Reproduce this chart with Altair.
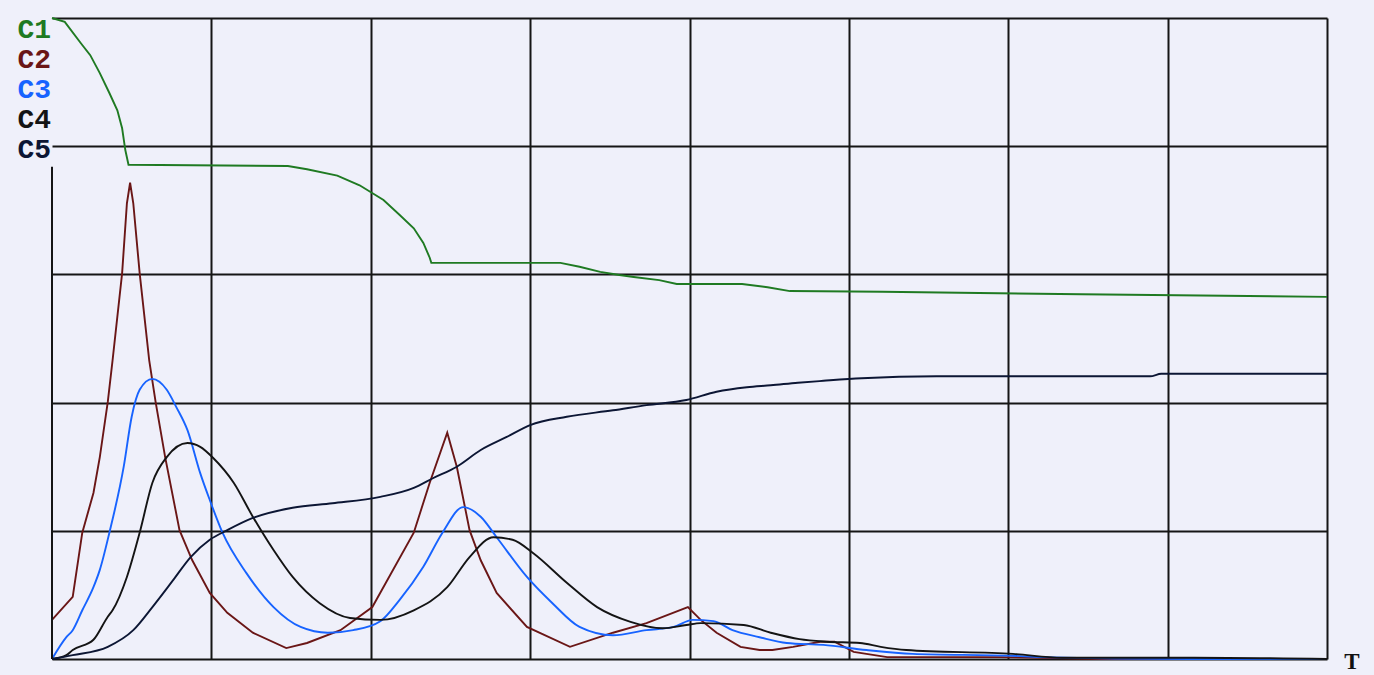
import altair as alt
import pandas as pd

# ---- data (T: 0-80, value: 0-100) ----
c1_t = [0, 0.8, 1.8, 2.4, 3.0, 3.6, 4.1, 4.4, 4.6, 4.8, 14.8, 16.0, 17.9, 19.3, 20.8, 21.8, 22.7, 23.3, 23.7, 23.8,
        31.9, 33.1, 34.4, 35.6, 36.5, 38.1, 39.2, 43.3, 44.9, 46.3, 52.1, 64.6, 80]
c1_v = [100.0, 99.4, 96.1, 94.2, 91.4, 88.3, 85.6, 82.8, 79.4, 77.1, 76.9, 76.4, 75.4, 73.9, 71.6, 69.3, 67.2, 64.9, 62.6, 61.8,
        61.8, 61.2, 60.4, 59.9, 59.6, 59.1, 58.5, 58.5, 58.0, 57.4, 57.3, 56.9, 56.5]

c2_t = [0, 1.3, 1.9, 2.6, 3.0, 3.5, 3.8, 4.4, 4.7, 4.9, 5.1, 5.5, 6.1, 6.5, 7.1, 8.0, 8.8, 9.9, 11.0, 12.6, 14.7,
        16.0, 18.1, 20.1, 22.7, 23.7, 24.8, 25.4, 26.2, 26.9, 27.9, 29.8, 32.5, 35.2, 37.3, 39.9, 40.7, 41.7, 43.2,
        44.4, 45.2, 46.5, 48.2, 49.1, 50.3, 52.4, 59.5, 65.8, 80]
c2_v = [6.1, 9.7, 19.7, 25.9, 31.5, 40.1, 46.6, 60.2, 71.1, 74.3, 71.1, 60.2, 46.6, 40.1, 31.5, 20.1, 15.4, 10.3, 7.2, 4.1, 1.7,
        2.5, 4.5, 8.1, 19.7, 27.5, 35.3, 30.0, 20.1, 15.4, 10.3, 5.0, 1.9, 4.1, 5.6, 8.1, 6.1, 4.1, 1.9,
        1.4, 1.4, 1.9, 2.7, 2.7, 1.1, 0.3, 0.3, 0.0, 0.0]

c3_t = [0, 0.9, 1.3, 1.9, 2.6, 3.0, 3.6, 4.5, 5.0, 5.5, 6.3, 7.2, 7.8, 8.5, 9.3, 9.9, 10.7, 12.2, 13.9, 15.6, 17.3,
        18.9, 20.6, 21.8, 23.3, 24.5, 25.8, 26.9, 27.9, 29.8, 31.4, 33.1, 35.2, 37.3, 39.0, 40.2, 41.5, 42.7, 44.4,
        46.1, 48.4, 51.1, 54.0, 60.3, 62.0, 71.4, 80]
c3_v = [0.0, 3.4, 4.5, 7.6, 11.2, 13.9, 19.7, 30.0, 37.8, 42.0, 43.7, 42.0, 39.3, 35.7, 29.0, 24.8, 19.7, 13.4, 8.1, 5.0, 4.1,
        4.5, 5.9, 9.2, 14.4, 19.7, 23.7, 22.2, 19.0, 12.8, 8.7, 5.0, 3.7, 4.5, 5.0, 6.1, 5.9, 4.5, 3.4,
        2.5, 2.2, 1.4, 0.8, 0.5, 0.3, 0.0, 0.0]

c4_t = [0, 0.9, 1.3, 2.6, 3.5, 3.8, 4.7, 5.5, 6.3, 7.2, 8.5, 9.3, 10.1, 11.4, 12.6, 13.9, 15.1, 16.8, 18.7, 20.6,
        22.7, 24.8, 26.2, 27.7, 28.9, 30.2, 32.3, 34.2, 36.3, 38.3, 39.8, 40.7, 43.4, 45.1, 46.9, 48.6, 50.7, 52.0,
        53.6, 60.3, 63.4, 71.6, 80]
c4_v = [0.0, 0.6, 1.4, 3.0, 6.6, 7.6, 12.8, 19.7, 27.5, 31.5, 33.7, 33.1, 31.4, 27.5, 22.2, 17.0, 12.8, 8.7, 6.4, 6.1,
        7.6, 11.2, 15.9, 19.0, 18.6, 16.5, 11.9, 8.1, 5.8, 4.8, 5.3, 5.6, 5.3, 4.1, 3.1, 2.7, 2.5, 1.9,
        1.4, 0.8, 0.2, 0.2, 0.0]

c5_t = [0, 1.3, 3.5, 5.1, 6.3, 7.6, 8.7, 9.9, 11.0, 12.6, 15.1, 17.6, 20.6, 22.7, 23.9, 25.4, 26.9, 28.5, 30.0, 32.3,
        35.2, 37.3, 39.8, 41.7, 43.6, 45.1, 46.8, 48.4, 50.8, 55.5, 68.9, 69.6, 80]
c5_v = [0.0, 0.6, 1.9, 4.5, 8.1, 12.3, 15.9, 18.6, 20.1, 22.0, 23.6, 24.3, 25.3, 26.7, 28.2, 30.0, 32.6, 34.6, 36.5, 37.8,
        38.8, 39.6, 40.4, 41.7, 42.4, 42.7, 43.1, 43.4, 43.8, 44.1, 44.1, 44.5, 44.5]

names = ["C1", "C2", "C3", "C4", "C5"]
colors = ["#1f7a22", "#6a1616", "#1763ff", "#141414", "#0c1634"]
series = [(c1_t, c1_v), (c2_t, c2_v), (c3_t, c3_v), (c4_t, c4_v), (c5_t, c5_v)]
smooth = {"C1": "linear", "C2": "linear", "C3": "monotone", "C4": "monotone", "C5": "monotone"}

x_grid = [10, 20, 30, 40, 50, 60, 70, 80]
y_grid = [0, 20, 40, 60, 80, 100]

W, H = 1275, 641
xs = alt.Scale(domain=[0, 80], nice=False, zero=False)
ys = alt.Scale(domain=[0, 100], nice=False, zero=False)
grid_col = "#151515"
color_scale = alt.Scale(domain=names, range=colors)


def x_axis():
    return alt.Axis(values=x_grid, grid=True, labels=False, ticks=False, domain=False, title=None,
                    gridColor=grid_col, gridWidth=2, gridOpacity=1)


def y_axis():
    return alt.Axis(values=y_grid, grid=True, labels=False, ticks=False, domain=False, title=None,
                    gridColor=grid_col, gridWidth=2, gridOpacity=1)


layers = []
for n, (ts, vs) in zip(names, series):
    d = pd.DataFrame({"series": n, "T": ts, "v": vs})
    layers.append(
        alt.Chart(d).mark_line(strokeWidth=1.9, interpolate=smooth[n]).encode(
            x=alt.X("T:Q", scale=xs, axis=x_axis()),
            y=alt.Y("v:Q", scale=ys, axis=y_axis()),
            color=alt.Color("series:N", scale=color_scale, legend=None),
        )
    )

# left edge of the frame (stops below the labels)
layers.append(alt.Chart(pd.DataFrame({"T": [0], "v": [0], "v2": [76.8]})).mark_rule(
    color=grid_col, strokeWidth=2).encode(
        x=alt.X("T:Q", scale=xs, axis=x_axis()),
        y=alt.Y("v:Q", scale=ys, axis=y_axis()),
        y2="v2:Q"))

for k, (n, c) in enumerate(zip(names, colors)):
    layers.append(
        alt.Chart(pd.DataFrame({"a": [0]})).mark_text(
            text=n, color=c, font="Liberation Mono", fontWeight="bold", fontSize=28,
            align="right", baseline="middle").encode(x=alt.value(-1), y=alt.value(12 + 30 * k))
    )
layers.append(
    alt.Chart(pd.DataFrame({"a": [0]})).mark_text(
        text="T", color="#111111", font="Liberation Serif", fontWeight="bold", fontSize=23,
        align="center", baseline="middle").encode(x=alt.value(W + 25), y=alt.value(H + 3))
)

chart = alt.layer(*layers).properties(
    width=W, height=H,
    autosize=alt.AutoSizeParams(type="none"),
    padding={"left": 52, "top": 18, "right": 47, "bottom": 16},
    background="#eff0fa",
).configure_view(stroke=None)

chart.save("out.html", embed_options={"renderer": "svg", "actions": False})
